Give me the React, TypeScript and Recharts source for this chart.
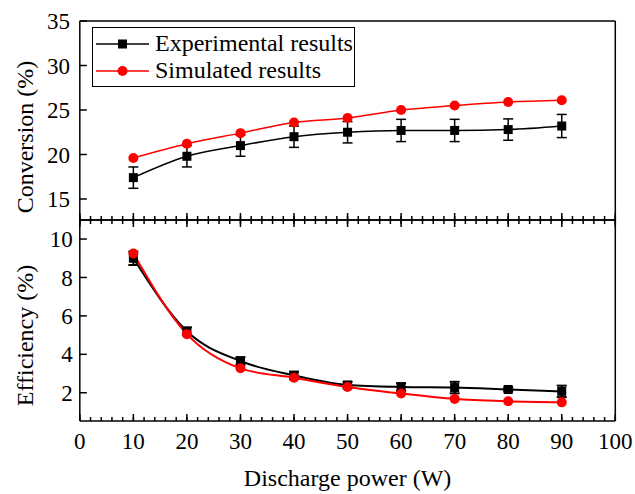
import { LineChart, Line, XAxis, YAxis, ErrorBar, Legend } from 'recharts';

const power = [10, 20, 30, 40, 50, 60, 70, 80, 90];

const convExp = [17.4, 19.8, 21.0, 22.0, 22.5, 22.7, 22.7, 22.8, 23.2];
const convExpErr = [1.2, 1.2, 1.2, 1.2, 1.2, 1.25, 1.25, 1.2, 1.3];
const convSim = [19.6, 21.2, 22.4, 23.6, 24.1, 25.0, 25.5, 25.9, 26.1];

const effExp = [9.0, 5.2, 3.65, 2.9, 2.4, 2.3, 2.27, 2.17, 2.07];
const effExpErr = [0.35, 0.2, 0.2, 0.2, 0.17, 0.2, 0.3, 0.1, 0.3];
const effSim = [9.25, 5.05, 3.27, 2.78, 2.3, 1.96, 1.68, 1.56, 1.5];

const xTicks = [0, 10, 20, 30, 40, 50, 60, 70, 80, 90, 100];
const convTicks = [15, 20, 25, 30, 35];
const effTicks = [2, 4, 6, 8, 10];

const steps = (from: number, to: number, step: number) => {
  const out: number[] = [];
  for (let v = from; v <= to + 1e-9; v += step) out.push(Math.round(v * 100) / 100);
  return out;
};
const xMinor = steps(0, 100, 2);
const convMinor = steps(13, 35, 1);
const effMinor = steps(0.8, 10.8, 0.4);

const topData = power.map((p, i) => ({
  power: p,
  exp: convExp[i],
  expErr: convExpErr[i],
  sim: convSim[i],
}));
const bottomData = power.map((p, i) => ({
  power: p,
  exp: effExp[i],
  expErr: effExpErr[i],
  sim: effSim[i],
}));

const FONT = 'Liberation Serif, Times New Roman, serif';
const RED = '#ff0000';
const THIN = 0.01; // axes take (almost) no room, the margins place the plot
const axisStyle = { stroke: '#000', strokeWidth: 1.5 };
const tickFont = { fill: '#000', fontSize: 23, fontFamily: FONT };
const blank = () => '';

const Square = (props: any) => {
  const { cx, cy, index } = props;
  if (cx == null || cy == null) return <g key={index} />;
  return <rect key={index} x={cx - 4.5} y={cy - 4.5} width={9} height={9} fill="#000" />;
};

const YTitle = ({ viewBox, value, shift }: any) => {
  const cx = viewBox.x + viewBox.width - 55;
  const cy = viewBox.y + viewBox.height / 2 + shift;
  return (
    <text
      x={cx}
      y={cy}
      transform={`rotate(-90 ${cx} ${cy})`}
      textAnchor="middle"
      dominantBaseline="central"
      fill="#000"
      fontSize={24}
      fontFamily={FONT}
    >
      {value}
    </text>
  );
};

const XTitle = ({ viewBox, value }: any) => (
  <text
    x={viewBox.x + viewBox.width / 2}
    y={viewBox.y + 57}
    textAnchor="middle"
    dominantBaseline="central"
    fill="#000"
    fontSize={24}
    fontFamily={FONT}
  >
    {value}
  </text>
);

const LegendBox = ({ payload }: any) => (
  <div
    style={{
      border: '1px solid #000',
      background: '#fff',
      width: 263,
      height: 60,
      boxSizing: 'border-box',
      paddingTop: 2,
      fontFamily: FONT,
      fontSize: 24,
      textAlign: 'left',
      whiteSpace: 'nowrap',
    }}
  >
    {(payload || []).map((entry: any, i: number) => (
      <div key={i} style={{ display: 'flex', alignItems: 'center', height: 27 }}>
        <svg width={62} height={20} style={{ flex: 'none' }}>
          <line x1={3} x2={56} y1={10} y2={10} stroke={entry.color} strokeWidth={1.5} />
          {i === 0 ? (
            <rect x={25} y={5.5} width={9} height={9} fill="#000" />
          ) : (
            <circle cx={29.5} cy={10} r={5} fill={RED} />
          )}
        </svg>
        <span style={{ color: '#000', lineHeight: '27px' }}>{entry.value}</span>
      </div>
    ))}
  </div>
);

export default function App() {
  return (
    <div style={{ position: 'absolute', left: 0, top: 0, width: 635, height: 494, background: '#fff' }}>
      <div style={{ position: 'absolute', left: 0, top: 0 }}>
        <LineChart
          width={635}
          height={230}
          data={topData}
          margin={{ top: 21, right: 19.7, bottom: 10, left: 79.8 }}
        >
          <XAxis
            dataKey="power"
            type="number"
            domain={[0, 100]}
            ticks={xTicks}
            interval={0}
            height={THIN}
            tickSize={-7}
            tickFormatter={blank}
            axisLine={axisStyle}
            tickLine={axisStyle}
          />
          <XAxis
            xAxisId="minor"
            dataKey="power"
            type="number"
            domain={[0, 100]}
            ticks={xMinor}
            interval={0}
            height={THIN}
            tickSize={-4}
            tickFormatter={blank}
            axisLine={false}
            tickLine={axisStyle}
          />
          <XAxis
            xAxisId="top"
            orientation="top"
            dataKey="power"
            type="number"
            domain={[0, 100]}
            height={THIN}
            tick={false}
            tickLine={false}
            axisLine={axisStyle}
          />
          <YAxis
            type="number"
            domain={[12.64, 35]}
            ticks={convTicks}
            interval={0}
            width={THIN}
            tickSize={-7}
            tickMargin={16.8}
            tick={tickFont}
            axisLine={axisStyle}
            tickLine={axisStyle}
            label={{ value: 'Conversion (%)', content: (p: any) => <YTitle {...p} value="Conversion (%)" shift={16.5} /> }}
          />
          <YAxis
            yAxisId="minor"
            type="number"
            domain={[12.64, 35]}
            ticks={convMinor}
            interval={0}
            width={THIN}
            tickSize={-4}
            tickFormatter={blank}
            axisLine={false}
            tickLine={axisStyle}
          />
          <YAxis
            yAxisId="right"
            orientation="right"
            type="number"
            domain={[12.64, 35]}
            width={THIN}
            tick={false}
            tickLine={false}
            axisLine={axisStyle}
          />
          <Legend
            layout="horizontal"
            verticalAlign="middle"
            align="center"
            wrapperStyle={{ left: 92, top: 27, width: 'auto' }}
            content={<LegendBox />}
          />
          <Line
            type="monotone"
            dataKey="exp"
            name="Experimental results"
            stroke="#000"
            strokeWidth={1.5}
            dot={Square}
            activeDot={false}
            isAnimationActive={false}
          >
            <ErrorBar dataKey="expErr" direction="y" width={5} stroke="#000" strokeWidth={1.5} />
          </Line>
          <Line
            type="monotone"
            dataKey="sim"
            name="Simulated results"
            stroke={RED}
            strokeWidth={1.5}
            dot={{ r: 5, fill: RED, stroke: RED, strokeWidth: 0 }}
            activeDot={false}
            isAnimationActive={false}
          />
        </LineChart>
      </div>
      <div style={{ position: 'absolute', left: 0, top: 210 }}>
        <LineChart
          width={635}
          height={284}
          data={bottomData}
          margin={{ top: 10, right: 19.7, bottom: 73, left: 79.8 }}
        >
          <XAxis
            dataKey="power"
            type="number"
            domain={[0, 100]}
            ticks={xTicks}
            interval={0}
            height={THIN}
            tickSize={-7}
            tickMargin={18.5}
            tick={tickFont}
            axisLine={axisStyle}
            tickLine={axisStyle}
            label={{ value: 'Discharge power (W)', content: (p: any) => <XTitle {...p} value="Discharge power (W)" /> }}
          />
          <XAxis
            xAxisId="minor"
            dataKey="power"
            type="number"
            domain={[0, 100]}
            ticks={xMinor}
            interval={0}
            height={THIN}
            tickSize={-4}
            tickFormatter={blank}
            axisLine={false}
            tickLine={axisStyle}
          />
          <XAxis
            xAxisId="top"
            orientation="top"
            dataKey="power"
            type="number"
            domain={[0, 100]}
            ticks={xTicks}
            interval={0}
            height={THIN}
            tickSize={-7}
            tickFormatter={blank}
            axisLine={axisStyle}
            tickLine={axisStyle}
          />
          <XAxis
            xAxisId="topMinor"
            orientation="top"
            dataKey="power"
            type="number"
            domain={[0, 100]}
            ticks={xMinor}
            interval={0}
            height={THIN}
            tickSize={-4}
            tickFormatter={blank}
            axisLine={false}
            tickLine={axisStyle}
          />
          <YAxis
            type="number"
            domain={[0.53, 10.99]}
            ticks={effTicks}
            interval={0}
            width={THIN}
            tickSize={-7}
            tickMargin={14}
            tick={tickFont}
            axisLine={axisStyle}
            tickLine={axisStyle}
            label={{ value: 'Efficiency (%)', content: (p: any) => <YTitle {...p} value="Efficiency (%)" shift={15} /> }}
          />
          <YAxis
            yAxisId="minor"
            type="number"
            domain={[0.53, 10.99]}
            ticks={effMinor}
            interval={0}
            width={THIN}
            tickSize={-4}
            tickFormatter={blank}
            axisLine={false}
            tickLine={axisStyle}
          />
          <YAxis
            yAxisId="right"
            orientation="right"
            type="number"
            domain={[0.53, 10.99]}
            width={THIN}
            tick={false}
            tickLine={false}
            axisLine={axisStyle}
          />
          <Line
            type="monotone"
            dataKey="exp"
            name="Experimental results"
            stroke="#000"
            strokeWidth={2}
            dot={Square}
            activeDot={false}
            isAnimationActive={false}
          >
            <ErrorBar dataKey="expErr" direction="y" width={5} stroke="#000" strokeWidth={2} />
          </Line>
          <Line
            type="monotone"
            dataKey="sim"
            name="Simulated results"
            stroke={RED}
            strokeWidth={2}
            dot={{ r: 5, fill: RED, stroke: RED, strokeWidth: 0 }}
            activeDot={false}
            isAnimationActive={false}
          />
        </LineChart>
      </div>
    </div>
  );
}
